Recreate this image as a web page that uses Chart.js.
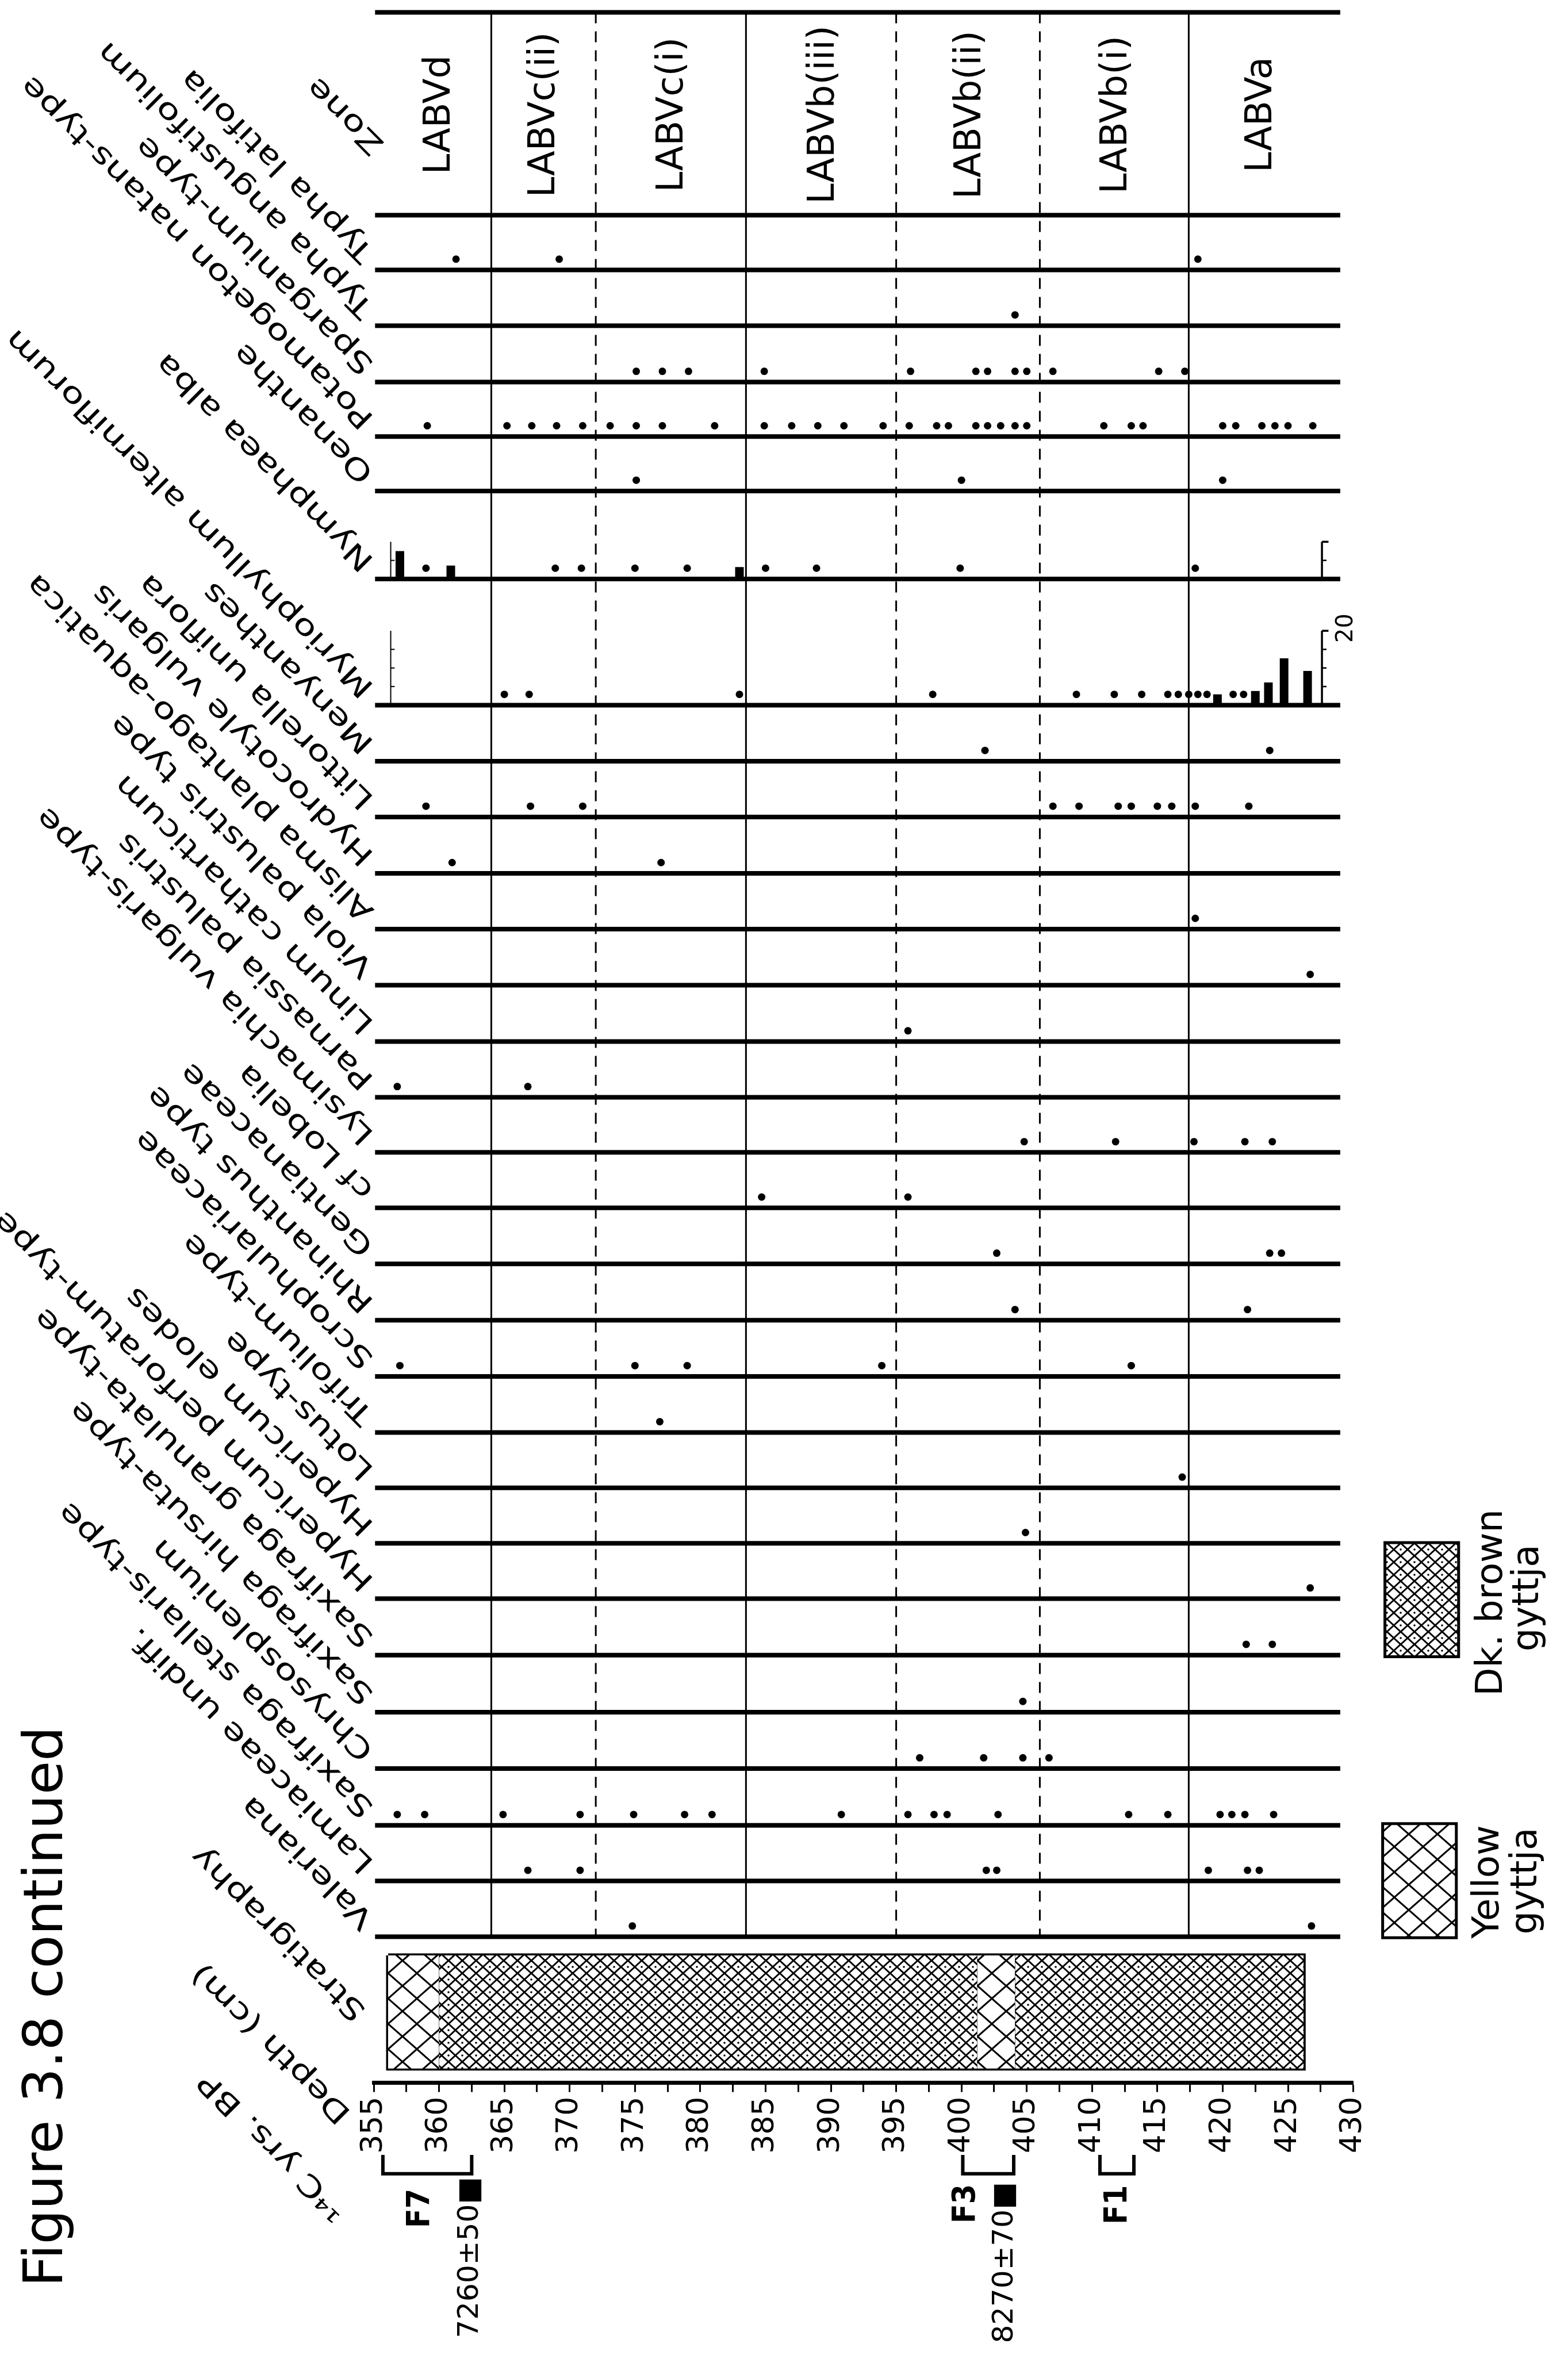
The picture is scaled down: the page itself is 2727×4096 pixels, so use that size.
<!DOCTYPE html>
<html>
<head>
<meta charset="utf-8">
<title>Figure 3.8 continued</title>
<script src="https://cdn.jsdelivr.net/npm/chart.js@4.4.0/dist/chart.umd.min.js"></script>
<style>
  html, body { margin: 0; padding: 0; background: #fff; }
  canvas { display: block; }
</style>
</head>
<body>
<canvas id="fig" width="2727" height="4096"></canvas>
<script>
// ---- data -------------------------------------------------------------
const depthLabels = [355, 360, 365, 370, 375, 380, 385, 390, 395, 400, 405, 410, 415, 420, 425, 430];

const taxa = [
  'Typha latifolia', 'Typha angustifolium', 'Sparganium-type', 'Potamogeton natans-type',
  'Oenanthe', 'Nymphaea alba', 'Myriophyllum alterniflorum', 'Menyanthes',
  'Littorella uniflora', 'Hydrocotyle vulgaris', 'Alisma plantago-aquatica', 'Viola palustris type',
  'Linum catharticum', 'Parnassia palustris', 'Lysimachia vulgaris-type', 'cf Lobelia',
  'Gentianaceae', 'Rhinanthus type', 'Scrophulariaceae', 'Trifolium-type', 'Lotus-type',
  'Hypericum elodes', 'Hypericum perforatum-type', 'Saxifraga granulata-type',
  'Saxifraga hirsuta-type', 'Chrysosplenium', 'Saxifraga stellaris-type',
  'Lamiaceae undiff.', 'Valeriana'
];

// depths (cm) at which each taxon is present (single grains)
const typhaLatifolia = [361.3, 369.2, 418.1];
const typhaAngustifolium = [404.1];
const sparganium = [375.1, 377.1, 379.1, 384.9, 396.1, 401.1, 402.0, 404.1, 405.0, 407.0, 415.1, 417.1];
const potamogeton = [359.1, 365.2, 367.1, 369.0, 371.0, 373.1, 375.1, 377.1, 381.1, 384.9, 387.0, 389.0,
  391.0, 394.0, 396.0, 398.1, 399.0, 401.1, 402.0, 403.0, 404.1, 405.0, 410.9, 413.0, 413.9,
  420.0, 421.0, 423.0, 424.0, 425.0, 426.9];
const oenanthe = [375.1, 400.0, 420.0];
const nymphaea = [359.0, 368.9, 370.9, 375.0, 379.0, 385.0, 388.9, 399.9, 417.9];
const myriophyllum = [365.0, 366.9, 383.0, 397.8, 408.8, 411.7, 413.8, 415.8, 416.6, 417.4, 418.1,
  418.8, 420.8, 421.6];
const menyanthes = [401.8, 423.6];
const littorella = [359.0, 367.0, 371.0, 407.0, 409.0, 412.0, 413.0, 415.0, 416.1, 417.9, 422.0];
const hydrocotyle = [361.0, 377.0];
const alisma = [417.9];
const viola = [426.7];
const linum = [395.9];
const parnassia = [356.8, 366.8];
const lysimachia = [404.8, 411.8, 417.8, 421.7, 423.8];
const lobelia = [384.7, 395.9];
const gentianaceae = [402.7, 423.6, 424.5];
const rhinanthus = [404.1, 421.9];
const scrophulariaceae = [357.0, 375.0, 379.0, 393.9, 413.0];
const trifolium = [376.9];
const lotus = [416.9];
const hypericumElodes = [404.9];
const hypericumPerforatum = [426.7];
const saxGranulata = [421.8, 423.8];
const saxHirsuta = [404.7];
const chrysosplenium = [396.8, 401.7, 404.7, 406.7];
const saxStellaris = [356.8, 358.9, 364.9, 370.8, 374.9, 378.8, 380.9, 390.8, 395.9, 397.9, 398.9,
  402.8, 412.8, 415.8, 419.8, 420.7, 421.7, 423.9];
const lamiaceae = [366.8, 370.8, 401.9, 402.7, 418.9, 421.9, 422.8];
const valeriana = [374.8, 426.8];

const presence = [typhaLatifolia, typhaAngustifolium, sparganium, potamogeton, oenanthe, nymphaea,
  myriophyllum, menyanthes, littorella, hydrocotyle, alisma, viola, linum, parnassia, lysimachia,
  lobelia, gentianaceae, rhinanthus, scrophulariaceae, trifolium, lotus, hypericumElodes,
  hypericumPerforatum, saxGranulata, saxHirsuta, chrysosplenium, saxStellaris, lamiaceae, valeriana];

// bars (% values)
const nymphaeaBarDepth = [357.0, 360.9, 383.0];
const nymphaeaBarPct = [7.5, 3.6, 3.2];
const myrioBarDepth = [419.6, 422.5, 423.5, 424.7, 426.5];
const myrioBarPct = [2.9, 3.8, 6.1, 12.6, 9.2];

const zoneNames = ['LABVd', 'LABVc(ii)', 'LABVc(i)', 'LABVb(iii)', 'LABVb(ii)', 'LABVb(i)', 'LABVa'];
const zoneMajor = [364, 383.5, 417.4];
const zoneMinor = [372, 395, 406];

const stratUnits = ['yellow', 'dark', 'yellow', 'dark'];
const stratBounds = [356.1, 360.0, 401.2, 404.1, 426.2];

const datedSamples = ['F7', 'F3', 'F1'];
const datedFrom = [355.7, 400.1, 410.6];
const datedTo = [362.5, 404.0, 413.2];
const datedAges = ['7260±50■', '8270±70■', ''];

// ---- layout (reference pixels, scaled by K) --------------------------
const K = 0.567;
const P = v => v * K;
const rowBase = [828, 999, 1172, 1339, 1506, 1776, 2163, 2335, 2506, 2679, 2850, 3022, 3195, 3366,
  3535, 3705, 3877, 4050, 4222, 4394, 4564, 4734, 4904, 5077, 5252, 5425, 5599, 5770, 5941];
const zoneTop = 38, zoneBottom = 660, axisY = 6389;
const lineFrom = 355.1, lineTo = 429;
const dotLift = 33;
const pctUnit = 11.4;
const stratTop = 5998, stratBottom = 6345;
const bracketTop = 6610, bracketBottom = 6668;
const zoneLabelAt = [359.8, 367.8, 377.6, 389.2, 400.4, 411.6, 422.7];
const datedTextX = [1315, 2990, 3455];
const datedTextY = [6834, 6820, 6823];
const ageTextX = [1465, 3105];
const ageTextY = [7172, 7188];
const FONT = '"DejaVu Sans", sans-serif';

// ---- hatch patterns ---------------------------------------------------
function lattice(w, h, lw, dotR) {
  const c = document.createElement('canvas');
  c.width = w; c.height = h;
  const g = c.getContext('2d');
  g.fillStyle = '#fff'; g.fillRect(0, 0, w, h);
  g.strokeStyle = '#000'; g.lineWidth = lw;
  g.beginPath();
  g.moveTo(0, h / 2); g.lineTo(w / 2, 0); g.lineTo(w, h / 2); g.lineTo(w / 2, h); g.closePath();
  g.stroke();
  if (dotR) {
    g.fillStyle = '#000';
    g.beginPath(); g.arc(w / 2, h / 2, dotR, 0, 2 * Math.PI); g.fill();
  }
  return g.createPattern(c, 'repeat');
}
const patterns = {
  yellow: lattice(50, 44, 3, 0),
  dark: lattice(24, 22, 3, 1.8)
};

// ---- datasets ---------------------------------------------------------
const datasets = [];
function seg(points, width, extra) {
  datasets.push(Object.assign({
    data: points, showLine: true, pointRadius: 0, borderColor: '#000',
    borderWidth: width, fill: false, clip: false, borderCapStyle: 'butt'
  }, extra || {}));
}

// zone strip
seg([{ x: lineFrom, y: zoneTop }, { x: lineTo, y: zoneTop }], 8);
seg([{ x: lineFrom, y: zoneBottom }, { x: lineTo, y: zoneBottom }], 8);
// taxon baselines
rowBase.forEach(b => seg([{ x: lineFrom, y: b }, { x: lineTo, y: b }], 8));
// zone boundaries
const lastBase = rowBase[rowBase.length - 1];
zoneMajor.forEach(d => seg([{ x: d, y: zoneTop }, { x: d, y: lastBase }], 3));
zoneMinor.forEach(d => seg([{ x: d, y: zoneTop }, { x: d, y: lastBase }], 3, { borderDash: [19, 14] }));

// presence dots
datasets.push({
  data: presence.flatMap((list, i) => list.map(d => ({ x: d, y: rowBase[i] - dotLift }))),
  showLine: false, pointRadius: 6.5, pointBackgroundColor: '#000', pointBorderWidth: 0, clip: false
});

// percentage bars
const nymBase = rowBase[taxa.indexOf('Nymphaea alba')];
const myrBase = rowBase[taxa.indexOf('Myriophyllum alterniflorum')];
nymphaeaBarDepth.forEach((d, i) =>
  seg([{ x: d, y: nymBase }, { x: d, y: nymBase - nymphaeaBarPct[i] * pctUnit }], 15));
myrioBarDepth.forEach((d, i) =>
  seg([{ x: d, y: myrBase }, { x: d, y: myrBase - myrioBarPct[i] * pctUnit }], 15));

// scale markers for the bar rows
function scaleMarks(base, maxPct) {
  const top = base - maxPct * pctUnit;
  seg([{ x: 356.3, y: base }, { x: 356.3, y: top }], 2);
  seg([{ x: 427.6, y: base }, { x: 427.6, y: top }], 3.5);
  seg([{ x: 427.6, y: top }, { x: 428.1, y: top }], 3.5);
  for (let p = 5; p < maxPct; p += 5) {
    seg([{ x: 356.3, y: base - p * pctUnit }, { x: 356.6, y: base - p * pctUnit }], 2);
    seg([{ x: 427.6, y: base - p * pctUnit }, { x: 427.95, y: base - p * pctUnit }], 2.5);
  }
}
scaleMarks(nymBase, 10);
scaleMarks(myrBase, 20);

// stratigraphy column
stratUnits.forEach((u, i) => datasets.push({
  data: [{ x: stratBounds[i], y: stratTop }, { x: stratBounds[i + 1], y: stratTop }],
  showLine: true, pointRadius: 0, borderWidth: 0, borderColor: 'rgba(0,0,0,0)',
  fill: { value: stratBottom }, backgroundColor: patterns[u]
}));
for (let i = 1; i < stratBounds.length - 1; i++)
  seg([{ x: stratBounds[i], y: stratTop }, { x: stratBounds[i], y: stratBottom }], 3);
const sL = stratBounds[0], sR = stratBounds[stratBounds.length - 1];
seg([{ x: sL, y: stratTop }, { x: sR, y: stratTop }, { x: sR, y: stratBottom },
     { x: sL, y: stratBottom }, { x: sL, y: stratTop }], 7);

// radiocarbon sample brackets
datedSamples.forEach((s, i) => seg([
  { x: datedFrom[i], y: bracketTop }, { x: datedFrom[i], y: bracketBottom },
  { x: datedTo[i], y: bracketBottom }, { x: datedTo[i], y: bracketTop }], 6));

// ---- text ---------------------------------------------------------------
const notes = {
  id: 'notes',
  afterDraw(chart) {
    const { ctx } = chart;
    const X = v => chart.scales.x.getPixelForValue(v);
    const Y = v => chart.scales.y.getPixelForValue(v);
    ctx.save();
    ctx.fillStyle = '#000';
    ctx.strokeStyle = '#000';

    const slant = (text, px, py) => {
      ctx.save();
      ctx.translate(px, py);
      ctx.rotate(-3 * Math.PI / 4);
      ctx.scale(1.3, 1);
      ctx.font = '50px ' + FONT;
      ctx.textAlign = 'left';
      ctx.textBaseline = 'alphabetic';
      ctx.fillText(text, 0, 0);
      ctx.restore();
    };
    const vert = (text, bx, y0, size, align, bold, maxW) => {
      ctx.save();
      ctx.translate(bx, y0);
      ctx.rotate(-Math.PI / 2);
      ctx.font = (bold ? 'bold ' : '') + size + 'px ' + FONT;
      ctx.textAlign = align;
      ctx.textBaseline = 'alphabetic';
      if (maxW) ctx.fillText(text, 0, 0, maxW); else ctx.fillText(text, 0, 0);
      ctx.restore();
    };

    taxa.forEach((t, i) => slant(t, X(355) + 2, Y(rowBase[i] - 58)));
    slant('Zone', X(355) + 20, Y(440));
    slant('Stratigraphy', P(1126), P(6165));
    slant('Depth (cm)', P(1080), P(6480));
    slant('¹⁴C yrs. BP', P(1068), P(6780));

    zoneNames.forEach((z, i) => vert(z, X(zoneLabelAt[i]) + 0.365 * 64, Y(352), 64, 'center'));

    vert('20', X(429.3) + 0.365 * 40, Y(1927), 40, 'center');

    datedSamples.forEach((s, i) => vert(s, P(datedTextX[i]), P(datedTextY[i]), 56, 'left', true, P(120)));
    datedAges.forEach((a, i) => { if (a) vert(a, P(ageTextX[i]), P(ageTextY[i]), 50, 'left'); });

    vert('Figure 3.8 continued', P(190), P(7015), 95, 'left');

    // legend
    const box = (pat, x0, y0, w, h) => {
      ctx.fillStyle = pat;
      ctx.fillRect(P(x0), P(y0), P(w), P(h));
      ctx.lineWidth = 5;
      ctx.strokeRect(P(x0), P(y0), P(w), P(h));
      ctx.fillStyle = '#000';
    };
    box(patterns.dark, 4248, 4732, 226, 350);
    box(patterns.yellow, 4241, 5594, 226, 350);
    vert('Dk. brown', P(4606), P(4916), 64, 'center');
    vert('gyttja', P(4718), P(4902), 64, 'center');
    vert('Yellow', P(4597), P(5773), 64, 'center');
    vert('gyttja', P(4712), P(5770), 64, 'center');

    ctx.restore();
  }
};

const tickValues = [];
for (let v = 355; v <= 430; v += 2.5) tickValues.push(v);

new Chart(document.getElementById('fig'), {
  type: 'scatter',
  data: { datasets },
  options: {
    responsive: false,
    animation: false,
    devicePixelRatio: 1,
    events: [],
    layout: { padding: { left: 650, right: 373.4, top: 21.5, bottom: 353.4 } },
    plugins: { legend: { display: false }, tooltip: { enabled: false } },
    scales: {
      x: {
        type: 'linear', min: 355, max: 430, position: 'bottom',
        afterBuildTicks(scale) { scale.ticks = tickValues.map(value => ({ value })); },
        afterFit(scale) { scale.height = 120; },
        ticks: {
          autoSkip: false, minRotation: 90, maxRotation: 90, padding: 8, color: '#000',
          font: { family: FONT, size: 52 },
          callback: v => depthLabels.includes(v) ? String(v) : ''
        },
        grid: { drawOnChartArea: false, drawTicks: true, tickLength: 16, tickWidth: 3, tickColor: '#000' },
        border: { display: true, width: 7, color: '#000' }
      },
      y: { type: 'linear', reverse: true, min: zoneTop, max: axisY, display: false }
    }
  },
  plugins: [notes]
});
</script>
</body>
</html>
